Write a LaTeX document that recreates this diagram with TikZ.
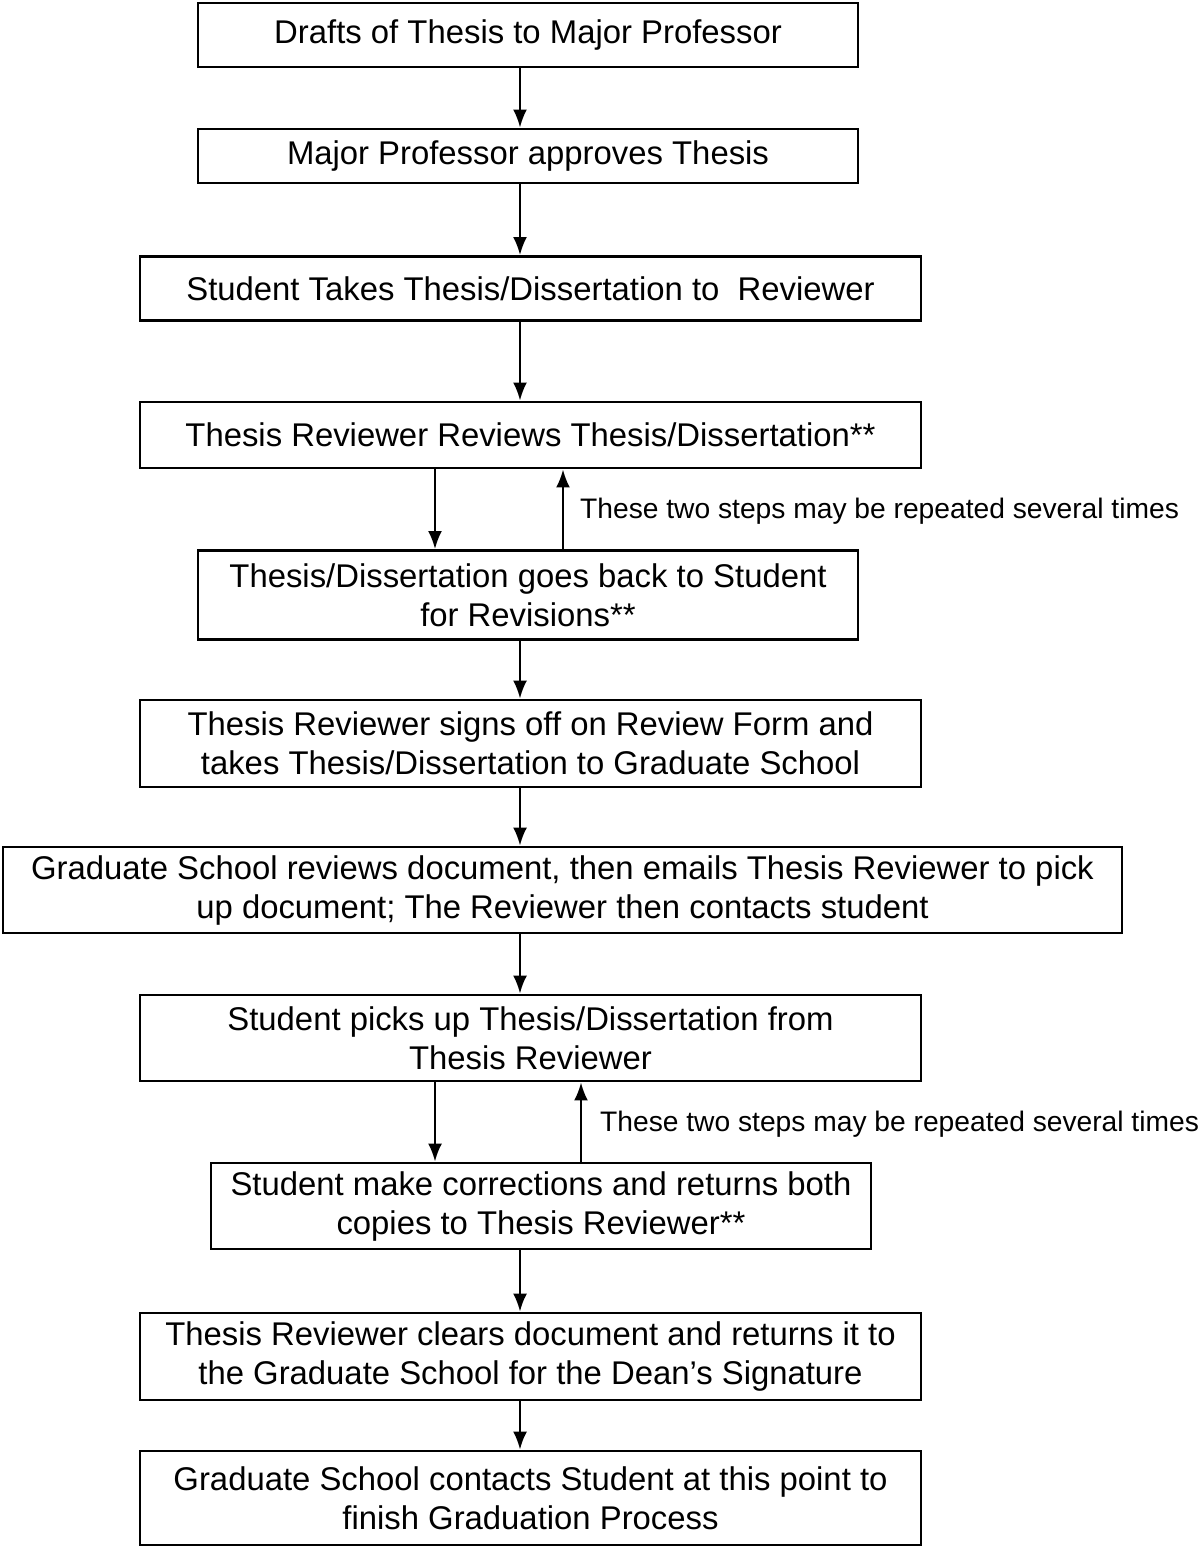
\documentclass[tikz,border=0pt]{standalone}
\usepackage{fontspec}
\setmainfont{Liberation Sans}
\usetikzlibrary{arrows.meta}
\begin{document}
\begin{tikzpicture}[x=1pt,y=-1pt,
  stepbox/.style={draw=black, line width=2.8pt, inner sep=0pt, align=center,
    font=\fontsize{32.85}{39}\selectfont},
  arr/.style={line width=2.4pt, -{Latex[length=18pt,width=14pt]}},
  note/.style={anchor=west, inner sep=0pt, font=\fontsize{28.2}{33}\selectfont}]
\useasboundingbox (0,0) rectangle (1199,1547);
% boxes: center x, center y, width, height
\node[stepbox, minimum width=660pt, minimum height=64pt] (b1) at (528,35) {Drafts of Thesis to Major Professor};
\node[stepbox, minimum width=660pt, minimum height=54pt] (b2) at (528,156) {Major Professor approves Thesis};
\node[stepbox, minimum width=781pt, minimum height=64pt] (b3) at (530.5,288.5) {Student Takes Thesis/Dissertation to\ \ Reviewer};
\node[stepbox, minimum width=781pt, minimum height=66pt] (b4) at (530.5,435) {Thesis Reviewer Reviews Thesis/Dissertation**};
\node[stepbox, minimum width=660pt, minimum height=89pt] (b5) at (528,595) {Thesis/Dissertation goes back to Student\\for Revisions**};
\node[stepbox, minimum width=781pt, minimum height=87pt] (b6) at (530.5,743.5) {Thesis Reviewer signs off on Review Form and\\takes Thesis/Dissertation to Graduate School};
\node[stepbox, minimum width=1119pt, minimum height=86pt] (b7) at (562.5,890) {Graduate School reviews document, then emails Thesis Reviewer to pick\\up document; The Reviewer then contacts student};
\node[stepbox, minimum width=781pt, minimum height=86pt] (b8) at (530.5,1038) {Student picks up Thesis/Dissertation from\\Thesis Reviewer};
\node[stepbox, minimum width=660pt, minimum height=86pt] (b9) at (541,1206) {Student make corrections and returns both\\copies to Thesis Reviewer**};
\node[stepbox, minimum width=781pt, minimum height=87pt] (b10) at (530.5,1356.5) {Thesis Reviewer clears document and returns it to\\the Graduate School for the Dean’s Signature};
\node[stepbox, minimum width=781pt, minimum height=94pt] (b11) at (530.5,1498) {Graduate School contacts Student at this point to\\finish Graduation Process};
% notes
\node[note] (n1) at (580,511) {These two steps may be repeated several times};
\node[note] (n2) at (600,1124) {These two steps may be repeated several times};
% connector x positions
\coordinate (ax) at (520,0);
\coordinate (dl) at (435,0);
\coordinate (u1) at (563,0);
\coordinate (u2) at (581,0);
\draw[arr] (b1.south -| ax) -- (b2.north -| ax);
\draw[arr] (b2.south -| ax) -- (b3.north -| ax);
\draw[arr] (b3.south -| ax) -- (b4.north -| ax);
\draw[arr] (b4.south -| dl) -- (b5.north -| dl);
\draw[arr] (b5.north -| u1) -- (b4.south -| u1);
\draw[arr] (b5.south -| ax) -- (b6.north -| ax);
\draw[arr] (b6.south -| ax) -- (b7.north -| ax);
\draw[arr] (b7.south -| ax) -- (b8.north -| ax);
\draw[arr] (b8.south -| dl) -- (b9.north -| dl);
\draw[arr] (b9.north -| u2) -- (b8.south -| u2);
\draw[arr] (b9.south -| ax) -- (b10.north -| ax);
\draw[arr] (b10.south -| ax) -- (b11.north -| ax);
\end{tikzpicture}
\end{document}
